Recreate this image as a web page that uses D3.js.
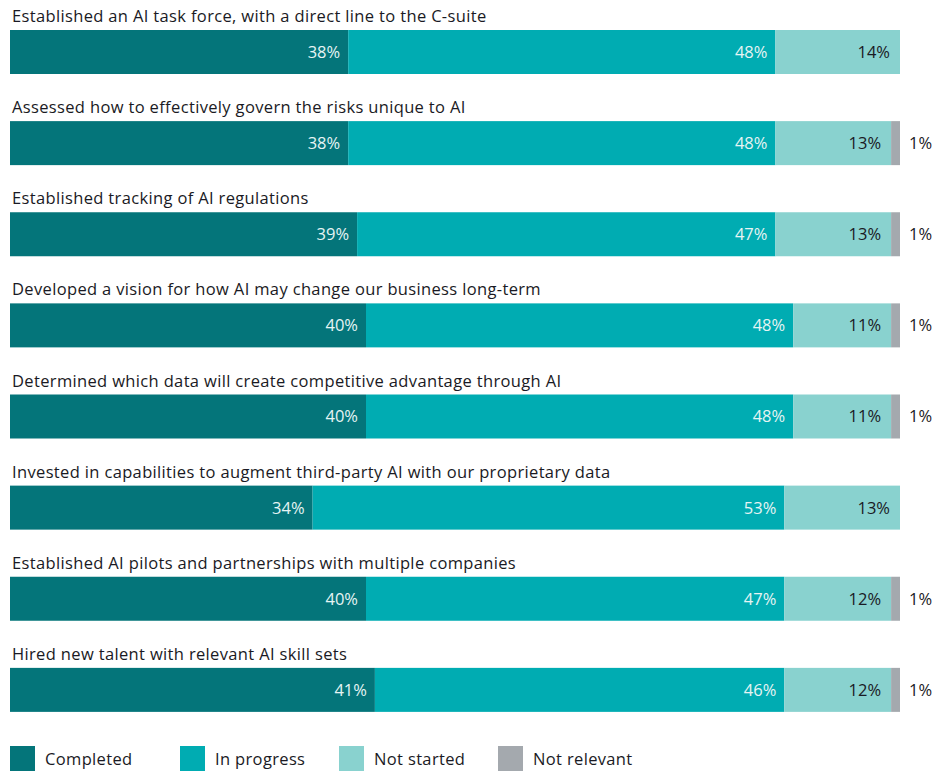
<!DOCTYPE html>
<html>
<head>
<meta charset="utf-8">
<script src="https://cdn.jsdelivr.net/npm/d3@7"></script>
<style>
  html, body { margin: 0; padding: 0; background: #fff; }
  svg { display: block; }
  text { font-family: "Open Sans", Roboto, sans-serif; }
</style>
</head>
<body>
<svg id="chart" width="946" height="771"></svg>
<script>
const categories = [
  "Established an AI task force, with a direct line to the C-suite",
  "Assessed how to effectively govern the risks unique to AI",
  "Established tracking of AI regulations",
  "Developed a vision for how AI may change our business long-term",
  "Determined which data will create competitive advantage through AI",
  "Invested in capabilities to augment third-party AI with our proprietary data",
  "Established AI pilots and partnerships with multiple companies",
  "Hired new talent with relevant AI skill sets"
];
const seriesNames = ["Completed", "In progress", "Not started", "Not relevant"];
const completed   = [38, 38, 39, 40, 40, 34, 40, 41];
const inProgress  = [48, 48, 47, 48, 48, 53, 47, 46];
const notStarted  = [14, 13, 13, 11, 11, 13, 12, 12];
const notRelevant = [0, 1, 1, 1, 1, 0, 1, 1];
const colors = ["#04757a", "#00acb2", "#89d2cf", "#a4a9ae"];
const labelColors = ["#e6f4f4", "#e6f4f4", "#1a1a24", "#1a1a24"];

const svg = d3.select("#chart");

const rows = categories.map((c, i) => ({
  cat: c,
  vals: [completed[i], inProgress[i], notStarted[i], notRelevant[i]]
}));
const stack = d3.stack().keys([0, 1, 2, 3]).value((d, k) => d.vals[k]);
const stacked = stack(rows);

const x = d3.scaleLinear().domain([0, 100]).range([10, 900]);
const y = d3.scaleBand().domain(d3.range(categories.length)).range([0, 729]).paddingInner(0).paddingOuter(0);
const barTop = i => y(i) + 30;
const barH = 44;
const FS = 16.5;

// category labels
svg.append("g").selectAll("text").data(categories).join("text")
  .attr("x", 12)
  .attr("y", (d, i) => barTop(i) - 8)
  .attr("font-size", FS)
  .attr("letter-spacing", "0.35px")
  .attr("fill", "#1a1a24")
  .text(d => d);

// bars
const layers = svg.append("g").selectAll("g").data(stacked).join("g")
  .attr("fill", (d, k) => colors[k]);
layers.selectAll("rect").data(d => d.map((v, i) => ({v, i}))).join("rect")
  .attr("x", d => x(d.v[0]))
  .attr("y", d => barTop(d.i))
  .attr("width", d => x(d.v[1]) - x(d.v[0]))
  .attr("height", barH);

// value labels
stacked.forEach((layer, k) => {
  svg.append("g").selectAll("text").data(layer.map((v, i) => ({v, i, val: rows[i].vals[k]})).filter(d => d.val > 0)).join("text")
    .attr("x", d => k === 3 ? x(d.v[1]) + 9 : x(d.v[1]) - (k === 2 ? 10 : 8))
    .attr("y", d => barTop(d.i) + barH / 2)
    .attr("dy", "0.36em")
    .attr("text-anchor", k === 3 ? "start" : "end")
    .attr("font-size", FS)
    .attr("fill", k === 3 ? "#1a1a24" : labelColors[k])
    .text(d => d.val + "%");
});

// legend
const legendX = [10, 180, 339, 498];
const lg = svg.append("g").selectAll("g").data(seriesNames).join("g")
  .attr("transform", (d, i) => `translate(${legendX[i]},746)`);
lg.append("rect").attr("width", 25).attr("height", 25).attr("fill", (d, i) => colors[i]);
lg.append("text").attr("x", 35).attr("y", 19).attr("font-size", FS)
  .attr("letter-spacing", "0.35px").attr("fill", "#1a1a24").text(d => d);
</script>
</body>
</html>
